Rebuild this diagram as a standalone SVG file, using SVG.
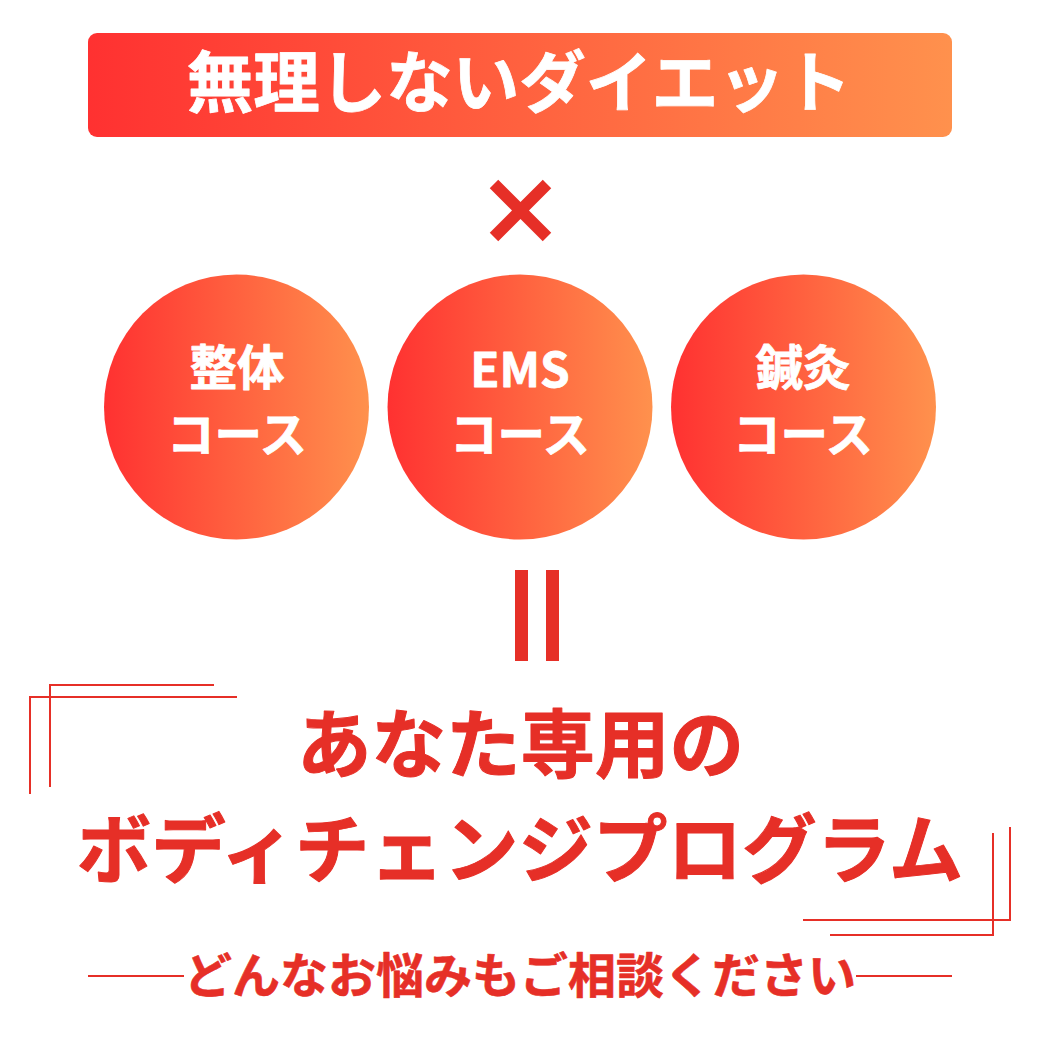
<svg xmlns="http://www.w3.org/2000/svg" width="1040" height="1040" viewBox="0 0 1040 1040">
<style>
text{font-family:"Noto Sans CJK JP","Noto Sans",sans-serif;font-weight:700;text-anchor:middle;stroke-linejoin:round}
.w{fill:#fff;stroke:#fff;stroke-width:.8px}.r{fill:#e62f27;stroke:#e62f27;stroke-width:1px}
.l{stroke:#e62f27;stroke-width:2;fill:none}
.c{font-size:47.500px}
.b{fill:#e62f27;stroke:none}
</style>
<defs><linearGradient id="g"><stop offset="0" stop-color="#ff3131"/><stop offset="1" stop-color="#ff914d"/></linearGradient></defs>
<rect width="1040" height="1040" fill="#fff"/>
<g id="title"><rect x="88" y="33" width="864" height="104" rx="9" fill="url(#g)"/><text class="w" x="519" y="107" font-size="66.500">無理しないダイエット</text></g>
<g id="times"><path d="M494 184L547 237M547 184L494 237" stroke="#e62f27" stroke-width="12" fill="none"/></g>
<g id="n1"><circle cx="236.500" cy="407" r="132.500" fill="url(#g)"/><text class="w c" x="237" y="385">整体</text><text class="w c" x="237" y="452">コース</text></g>
<g id="n2"><circle cx="520" cy="407" r="132.500" fill="url(#g)"/><text class="w c" x="520" y="387">EMS</text><text class="w c" x="520" y="452">コース</text></g>
<g id="n3"><circle cx="803.500" cy="407" r="132.500" fill="url(#g)"/><text class="w c" x="803" y="385">鍼灸</text><text class="w c" x="803" y="452">コース</text></g>
<g id="equals"><rect x="515" y="570" width="13" height="91" class="b"/><rect x="546" y="570" width="13" height="91" class="b"/></g>
<g id="frames"><path class="l" d="M237 697H30V794M214 685H50V787"/><path class="l" d="M803 920H1010V827M830 935H993V833"/></g>
<g id="heading"><text class="r" x="520.500" y="772" font-size="74.500">あなた専用の</text><text class="r" x="520" y="877" font-size="74.500">ボディチェンジプログラム</text></g>
<g id="footer"><path class="l" d="M88 976H184M856 976H952"/><text class="r" x="520" y="993" font-size="48" style="stroke-width:.6px">どんなお悩みもご相談ください</text></g>
</svg>
